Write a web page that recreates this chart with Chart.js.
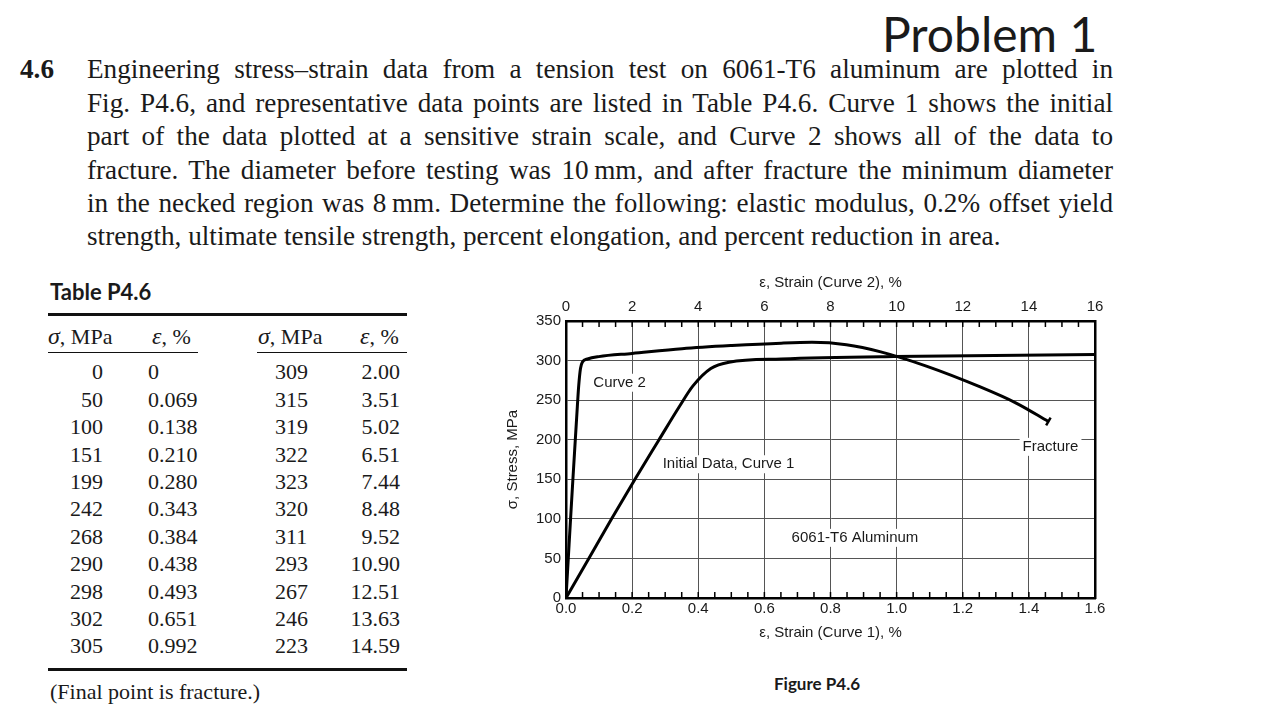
<!DOCTYPE html>
<html>
<head>
<meta charset="utf-8">
<script src="https://cdn.jsdelivr.net/npm/chart.js@4.4.1/dist/chart.umd.min.js"></script>
<style>
  html, body { margin: 0; padding: 0; background: #fff; }
  #page { position: relative; width: 1280px; height: 720px; overflow: hidden; color: #1a1a1a; }
  .abs { position: absolute; white-space: nowrap; }
  #problem { left: 882px; top: 6px; font: 48px Lato, sans-serif; line-height: 56px; }
  .stmt { font: 27.2px "Liberation Serif", "Times New Roman", serif; line-height: 33.4px; height: 33.4px; }
  #num { left: 20px; font-weight: bold; }
  .tab { font: 22px "Liberation Serif", "Times New Roman", serif; line-height: 27.4px; height: 27.4px; }
  .tab i { font-size: 24px; }
  .rule { position: absolute; background: #111; }
  #tabTitle { left: 50px; top: 278px; font: bold 22px Lato, sans-serif; line-height: 28px; }
  #figTitle { left: 717px; width: 200px; text-align: center; top: 672px; font: bold 17px Lato, sans-serif; line-height: 24px; }
  #chartBox { position: absolute; left: 500px; top: 270px; width: 615px; height: 380px; }
</style>
</head>
<body>
<div id="page">
  <div id="problem" class="abs">Problem 1</div>
  <div id="num" class="abs stmt" style="top:53.3px">4.6</div>
  <div id="stmt"></div>

  <div id="tabTitle" class="abs">Table P4.6</div>
  <div class="rule" style="left:48px; top:313px; width:359px; height:3px"></div>
  <div class="rule" style="left:48px; top:352px; width:150px; height:1px"></div>
  <div class="rule" style="left:257px; top:352px; width:150px; height:1px"></div>
  <div class="rule" style="left:48px; top:668px; width:359px; height:3px"></div>
  <div id="table"></div>
  <div class="abs tab" style="left:50px; top:678px">(Final point is fracture.)</div>

  <div id="chartBox"><canvas id="chart" width="615" height="380"></canvas></div>
  <div id="figTitle" class="abs">Figure P4.6</div>
</div>
<script>
// Table P4.6 (left and right column pairs)
const stressA = [0, 50, 100, 151, 199, 242, 268, 290, 298, 302, 305];
const strainA = ['0', '0.069', '0.138', '0.210', '0.280', '0.343', '0.384', '0.438', '0.493', '0.651', '0.992'];
const stressB = [309, 315, 319, 322, 323, 320, 311, 293, 267, 246, 223];
const strainB = ['2.00', '3.51', '5.02', '6.51', '7.44', '8.48', '9.52', '10.90', '12.51', '13.63', '14.59'];

// axis ranges
const strain1Max = 1.6;
const strain2Max = 16;
const stressMax = 350;

const stmtLines = [
  'Engineering stress–strain data from a tension test on 6061-T6 aluminum are plotted in',
  'Fig. P4.6, and representative data points are listed in Table P4.6. Curve 1 shows the initial',
  'part of the data plotted at a sensitive strain scale, and Curve 2 shows all of the data to',
  'fracture. The diameter before testing was 10\u2009mm, and after fracture the minimum diameter',
  'in the necked region was 8\u2009mm. Determine the following: elastic modulus, 0.2% offset yield',
  'strength, ultimate tensile strength, percent elongation, and percent reduction in area.',
];

const notes = [
  { text: 'Curve 2', x: 0.162, y: 272 },
  { text: 'Initial Data, Curve 1', x: 0.4915, y: 169 },
  { text: '6061-T6 Aluminum', x: 0.874, y: 76 },
  { text: 'Fracture', x: 1.4655, y: 191 },
];

// statement text, one justified line each
const stmt = document.getElementById('stmt');
stmtLines.forEach((txt, i) => {
  const d = document.createElement('div');
  d.className = 'abs stmt';
  d.style.left = '87px';
  d.style.top = (53.3 + i * 33.4) + 'px';
  d.textContent = txt;
  stmt.appendChild(d);
  if (i < stmtLines.length - 1) {
    const w = d.getBoundingClientRect().width;
    const gaps = (txt.match(/ /g) || []).length;
    d.style.wordSpacing = ((1026 - w) / gaps) + 'px';
  }
});

// table
const table = document.getElementById('table');
function cell(html, left, top, width, align) {
  const d = document.createElement('div');
  d.className = 'abs tab';
  d.style.left = left + 'px';
  d.style.top = top + 'px';
  if (width) {
    d.style.width = width + 'px';
    d.style.textAlign = align;
  }
  d.innerHTML = html;
  table.appendChild(d);
}
const headTop = 337 - 13.7;
cell('<i>σ</i>, MPa', 48, headTop);
cell('<i>ε</i>, %', 152, headTop);
cell('<i>σ</i>, MPa', 258, headTop);
cell('<i>ε</i>, %', 360, headTop);
stressA.forEach((s, i) => {
  const top = 372 + i * 27.4 - 13.7;
  cell(String(s), 43, top, 60, 'right');
  cell(strainA[i], 148, top);
  cell(String(stressB[i]), 275, top);
  cell(strainB[i], 340, top, 60, 'right');
});

// chart
const pts = (strains, stresses) => strains.map((s, i) => ({ x: Number(s), y: stresses[i] }));
const allPts = pts(strainA, stressA).concat(pts(strainB, stressB));
const lastIdx = allPts.length - 1;

const isMajor = (v, step) => Math.abs(v / step - Math.round(v / step)) < 1e-6;

const FONT = { family: '"Liberation Sans", Arial, sans-serif', size: 15 };
const INK = '#1a1a1a';
const GRID = '#555';

const minorTicks = {
  id: 'minorTicks',
  afterDraw(chart) {
    const { ctx, chartArea: a, scales } = chart;
    ctx.save();
    ctx.strokeStyle = '#000';
    ctx.lineWidth = 1.5;
    ctx.beginPath();
    scales.x.ticks.forEach((t) => {
      const px = scales.x.getPixelForValue(t.value);
      ctx.moveTo(px, a.bottom);
      ctx.lineTo(px, a.bottom - 6);
    });
    scales.x2.ticks.forEach((t) => {
      const px = scales.x2.getPixelForValue(t.value);
      ctx.moveTo(px, a.top);
      ctx.lineTo(px, a.top + 6);
    });
    ctx.stroke();
    ctx.restore();
  },
};

const notePlugin = {
  id: 'notes',
  beforeDatasetsDraw(chart) {
    const { ctx, scales: { x, y } } = chart;
    ctx.save();
    ctx.font = '15px "Liberation Sans", Arial, sans-serif';
    ctx.textAlign = 'center';
    ctx.textBaseline = 'middle';
    notes.forEach((n) => {
      const px = x.getPixelForValue(n.x);
      const py = y.getPixelForValue(n.y);
      const w = ctx.measureText(n.text).width;
      ctx.fillStyle = '#fff';
      ctx.fillRect(px - w / 2 - 3, py - 9, w + 6, 18);
      ctx.fillStyle = INK;
      ctx.fillText(n.text, px, py);
    });
    ctx.restore();
  },
};

new Chart(document.getElementById('chart'), {
  type: 'scatter',
  data: {
    datasets: [
      {
        label: 'Curve 1',
        data: allPts,
        xAxisID: 'x',
        yAxisID: 'y',
        showLine: true,
        borderColor: '#000',
        borderWidth: 3,
        pointRadius: 0,
        cubicInterpolationMode: 'monotone',
      },
      {
        label: 'Curve 2',
        data: allPts,
        xAxisID: 'x2',
        yAxisID: 'y',
        showLine: true,
        borderColor: '#000',
        borderWidth: 3,
        pointRadius: (ctx) => (ctx.dataIndex === lastIdx ? 4.5 : 0),
        pointStyle: 'line',
        rotation: 120,
        pointBorderColor: '#000',
        pointBorderWidth: 2.5,
        cubicInterpolationMode: 'monotone',
      },
    ],
  },
  options: {
    responsive: false,
    animation: false,
    layout: { padding: 0 },
    plugins: { legend: { display: false }, tooltip: { enabled: false } },
    scales: {
      x: {
        type: 'linear',
        position: 'bottom',
        min: 0,
        max: strain1Max,
        afterFit(s) { s.height = 52; },
        ticks: {
          stepSize: 0.05,
          autoSkip: false,
          maxRotation: 0,
          padding: 2,
          color: INK,
          font: FONT,
          callback: (v) => (isMajor(v, 0.2) ? v.toFixed(1) : ''),
        },
        grid: {
          drawTicks: false,
          lineWidth: 1,
          color: (ctx) => (ctx.tick && isMajor(ctx.tick.value, 0.2) ? GRID : 'transparent'),
        },
        border: { color: '#000', width: 2.5 },
        title: { display: true, text: 'ε, Strain (Curve 1), %', color: INK, font: FONT, padding: { top: 0, bottom: 8 } },
      },
      x2: {
        type: 'linear',
        position: 'top',
        min: 0,
        max: strain2Max,
        afterFit(s) { s.height = 51; },
        ticks: {
          stepSize: 0.5,
          autoSkip: false,
          maxRotation: 0,
          padding: 5,
          color: INK,
          font: FONT,
          callback: (v) => (isMajor(v, 2) ? String(v) : ''),
        },
        grid: { drawOnChartArea: false, drawTicks: false },
        border: { color: '#000', width: 2.5 },
        title: { display: true, text: 'ε, Strain (Curve 2), %', color: INK, font: FONT, padding: { top: 4, bottom: 0 } },
      },
      y: {
        type: 'linear',
        position: 'left',
        min: 0,
        max: stressMax,
        afterFit(s) { s.width = 66; },
        ticks: { stepSize: 50, padding: 5, color: INK, font: FONT },
        grid: { drawTicks: false, color: GRID, lineWidth: 1 },
        border: { color: '#000', width: 2.5 },
        title: { display: true, text: 'σ, Stress, MPa', color: INK, font: FONT, padding: { top: 4, bottom: 0 } },
      },
      y2: {
        type: 'linear',
        position: 'right',
        min: 0,
        max: stressMax,
        afterFit(s) { s.width = 20; },
        ticks: { display: false },
        grid: { drawOnChartArea: false, drawTicks: false },
        border: { color: '#000', width: 2.5 },
      },
    },
  },
  plugins: [minorTicks, notePlugin],
});
</script>
</body>
</html>
